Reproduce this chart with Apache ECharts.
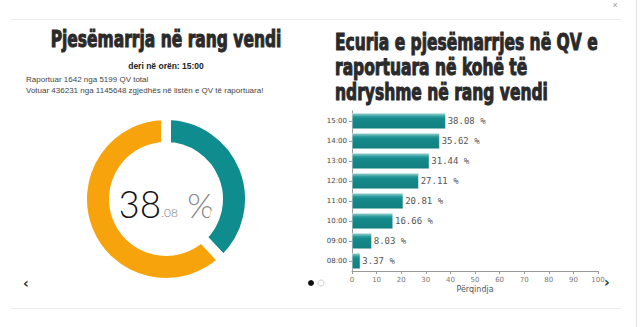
<!DOCTYPE html>
<html><head><meta charset="utf-8">
<script src="https://cdn.jsdelivr.net/npm/echarts@6/dist/echarts.min.js"></script>
<style>html,body{margin:0;padding:0;background:#fff}#c{width:640px;height:327px}</style>
</head><body><div id="c"></div>
<script>
// Data
const hours = ['08:00','09:00','10:00','11:00','12:00','13:00','14:00','15:00'];
const turnout = [3.37, 8.03, 16.66, 20.81, 27.11, 31.44, 35.62, 38.08];
const donutNames = ['Votuar', 'Pa votuar'];
const donutValues = [38.08, 61.92];
const xTicksMax = 100;
const leftTitle = 'Pjesëmarrja në rang vendi';
const rightTitleLines = ['Ecuria e pjesëmarrjes në QV e', 'raportuara në kohë të', 'ndryshme në rang vendi'];
const subLines = ['deri në orën: 15:00', 'Raportuar 1642 nga 5199 QV total', 'Votuar 436231 nga 1145648 zgjedhës në listën e QV të raportuara!'];
const axisName = 'Përqindja';

const titleFont = "'DejaVu Sans Condensed','DejaVu Sans',sans-serif";
const chart = echarts.init(document.getElementById('c'), null, {renderer: 'svg'});
const teal = '#0f8c8e', orange = '#f7a30c';
const tStyle = (text, align) => ({text, font: 'bold 23px ' + titleFont, fill: '#2a2a2a', stroke: '#2a2a2a', lineWidth: 1, textAlign: align, textVerticalAlign: 'middle'});

chart.setOption({
  animation: false,
  backgroundColor: '#fff',
  grid: {left: 352, right: 42, top: 111, bottom: 56},
  xAxis: {
    type: 'value', min: 0, max: xTicksMax, interval: 10,
    name: axisName, nameLocation: 'middle', nameGap: 14,
    nameTextStyle: {fontSize: 8, color: '#555', fontFamily: 'DejaVu Sans'},
    axisLine: {show: true, lineStyle: {color: '#9a9a9a'}},
    axisTick: {show: true, length: 3, lineStyle: {color: '#9a9a9a'}},
    axisLabel: {fontSize: 7, color: '#777', margin: 5, fontFamily: 'DejaVu Sans'},
    splitLine: {show: false}
  },
  yAxis: {
    type: 'category', data: hours,
    axisLine: {show: true, lineStyle: {color: '#9a9a9a'}},
    axisTick: {show: true, length: 3, alignWithLabel: true, lineStyle: {color: '#9a9a9a'}},
    axisLabel: {fontSize: 7, color: '#444', margin: 5, fontFamily: 'DejaVu Sans'}
  },
  series: [
    {
      type: 'bar', data: turnout, barWidth: 16, silent: true,
      itemStyle: {
        color: new echarts.graphic.LinearGradient(0, 0, 0, 1, [
          {offset: 0, color: '#9fd3d3'}, {offset: 0.22, color: '#2a9b9c'},
          {offset: 0.35, color: '#168a8b'}, {offset: 1, color: '#117f80'}
        ]),
        borderColor: '#e6f2f2', borderWidth: 0.5
      },
      label: {
        show: true, position: 'right', distance: 2,
        formatter: p => p.value.toFixed(2) + ' %',
        fontSize: 9, color: '#555', fontFamily: "'DejaVu Sans Mono',monospace"
      }
    },
    {
      type: 'pie', center: [166, 199], radius: [52, 84], startAngle: 90, clockwise: true,
      silent: true, label: {show: false}, labelLine: {show: false},
      itemStyle: {borderColor: '#fff', borderWidth: 10},
      data: donutNames.map((n, i) => ({name: n, value: donutValues[i], itemStyle: {color: i === 0 ? teal : orange}}))
    }
  ],
  graphic: [
    {type: 'line', shape: {x1: 10, y1: 19.5, x2: 622, y2: 19.5}, style: {stroke: '#ececec', lineWidth: 1}, silent: true},
    {type: 'line', shape: {x1: 10, y1: 308.5, x2: 622, y2: 308.5}, style: {stroke: '#ececec', lineWidth: 1}, silent: true},
    {type: 'line', shape: {x1: 636.5, y1: 0, x2: 636.5, y2: 327}, style: {stroke: '#e4e4e4', lineWidth: 1}, silent: true},
    {type: 'text', x: 615, y: 5, style: {text: '×', fontSize: 9, fill: '#999', textAlign: 'center', textVerticalAlign: 'middle'}},
    {type: 'text', x: 166, y: 39, scaleX: 0.75, style: tStyle(leftTitle, 'center')},
    {type: 'text', x: 166, y: 66, style: {text: subLines[0], font: 'bold 8.5px "Liberation Sans",Arial,sans-serif', fill: '#222', textAlign: 'center', textVerticalAlign: 'middle'}},
    {type: 'text', x: 26, y: 79, style: {text: subLines[1], font: '8px "Liberation Sans",Arial,sans-serif', fill: '#444', textAlign: 'left', textVerticalAlign: 'middle'}},
    {type: 'text', x: 26, y: 90, style: {text: subLines[2], font: '8px "Liberation Sans",Arial,sans-serif', fill: '#444', textAlign: 'left', textVerticalAlign: 'middle'}},
    {type: 'text', x: 335, y: 42, scaleX: 0.75, style: tStyle(rightTitleLines[0], 'left')},
    {type: 'text', x: 335, y: 67, scaleX: 0.75, style: tStyle(rightTitleLines[1], 'left')},
    {type: 'text', x: 335, y: 92, scaleX: 0.75, style: tStyle(rightTitleLines[2], 'left')},
    {type: 'text', x: 166, y: 203, style: {
      text: '{a|38}{b|.08}{c| %}', textAlign: 'center', textVerticalAlign: 'middle',
      rich: {
        a: {fontSize: 37, fontWeight: 300, fontFamily: 'Lato,"Open Sans",sans-serif', fill: '#111', color: '#111', verticalAlign: 'bottom'},
        b: {fontSize: 12, fontWeight: 300, fontFamily: 'Lato,"Open Sans",sans-serif', fill: '#777', color: '#777', verticalAlign: 'bottom', padding: [0, 0, 3, 0]},
        c: {fontSize: 34, fontWeight: 300, fontFamily: 'Lato,"Open Sans",sans-serif', fill: '#888', color: '#888', verticalAlign: 'bottom'}
      }
    }},
    {type: 'text', x: 26, y: 283, style: {text: '‹', font: 'bold 14px "DejaVu Sans",sans-serif', fill: '#333', textAlign: 'center', textVerticalAlign: 'middle'}},
    {type: 'text', x: 607, y: 282, style: {text: '›', font: 'bold 14px "DejaVu Sans",sans-serif', fill: '#333', textAlign: 'center', textVerticalAlign: 'middle'}},
    {type: 'circle', shape: {cx: 311, cy: 283, r: 3}, style: {fill: '#111'}, silent: true},
    {type: 'circle', shape: {cx: 321, cy: 283, r: 3}, style: {fill: '#fff', stroke: '#ccc', lineWidth: 1}, silent: true}
  ]
});
</script></body></html>
